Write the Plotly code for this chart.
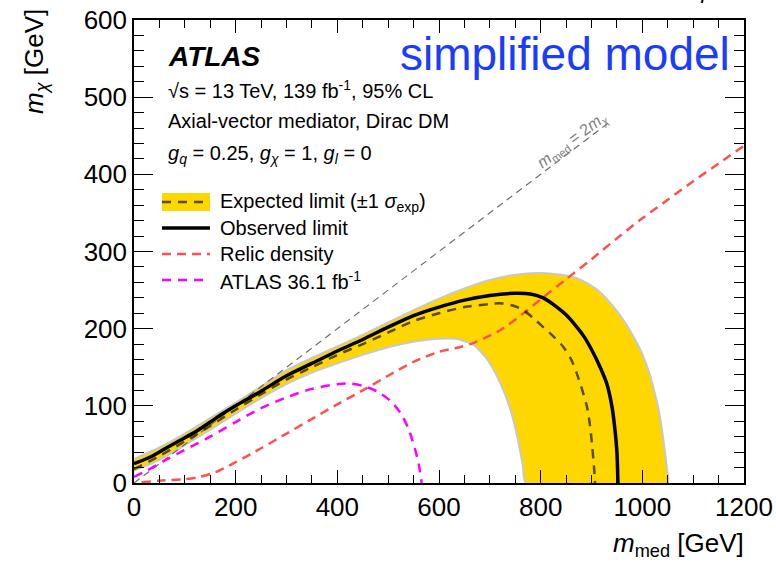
import plotly.graph_objects as go

# ---- data (m_med, m_chi in GeV) ----
obs_x = [0, 30, 60, 90, 120, 150, 175, 200, 250, 300, 350, 400, 450, 500, 550, 600, 650, 700, 750, 780, 805, 830, 850, 870, 885, 900, 915, 930, 940, 946, 950, 952]
obs_y = [25, 33, 44, 55, 66, 79, 90, 100, 119, 139, 155, 171, 186, 202, 217, 228, 237, 243, 246, 245, 240, 229, 218, 203, 190, 173, 153, 129, 100, 70, 40, 0]

exp_x = [0, 50, 100, 150, 200, 250, 300, 350, 400, 450, 500, 550, 600, 650, 700, 720, 745, 766, 785, 805, 825, 845, 860, 871, 882, 891, 897, 901, 905, 907]
exp_y = [18, 35, 54, 74, 95, 115, 134, 150, 166, 180, 195, 210, 220, 228, 232, 233, 230, 224, 214, 202, 190, 176, 160, 142, 120, 99, 75, 50, 20, 0]

band_hi_x = [0, 50, 100, 150, 200, 250, 300, 350, 400, 450, 500, 550, 600, 650, 700, 750, 800, 850, 880, 910, 940, 965, 985, 1000, 1014, 1025, 1033, 1043, 1048, 1050]
band_hi_y = [31, 46, 64, 84, 104, 125, 146, 162, 177, 192, 208, 224, 239, 252, 263, 270, 272, 269, 263, 251, 231, 209, 187, 167, 142, 115, 92, 48, 20, 0]

band_lo_x = [0, 50, 100, 150, 200, 250, 300, 350, 400, 450, 500, 550, 600, 640, 670, 695, 720, 740, 755, 765, 771]
band_lo_y = [16, 30, 49, 69, 90, 110, 128, 143, 155, 166, 176, 183, 187, 186, 178, 160, 130, 96, 57, 22, 0]

relic_x = [15, 50, 100, 130, 160, 200, 250, 300, 350, 400, 450, 500, 550, 600, 640, 670, 720, 770, 800, 850, 900, 950, 1000, 1050, 1100, 1150, 1200]
relic_y = [1, 3, 5, 8, 14, 27, 45, 64, 83, 102, 120, 139, 157, 170, 176, 182, 198, 222, 238, 264, 290, 317, 343, 367, 391, 414, 437]

old_x = [0, 25, 60, 100, 150, 200, 250, 300, 350, 400, 425, 450, 480, 505, 525, 540, 552, 560, 566]
old_y = [8, 16, 29, 43, 60, 79, 97, 111, 122, 128, 129, 126, 118, 106, 90, 70, 46, 25, 0]

diag_x = [0, 940]
diag_y = [0, 470]

x_ticks = [0, 200, 400, 600, 800, 1000, 1200]
y_ticks = [0, 100, 200, 300, 400, 500, 600]

FONT = "Liberation Sans, Arial, Helvetica, sans-serif"
GOLD = "#ffd700"
EXP_COL = "rgba(0,0,0,0.65)"
RELIC_COL = "#ff5050"
OLD_COL = "#ff00ff"
SMOOTH = 0.8

fig = go.Figure()

# +-1 sigma band as a closed polygon
fig.add_trace(go.Scatter(
    x=band_hi_x + band_lo_x[::-1], y=band_hi_y + band_lo_y[::-1],
    fill="toself", fillcolor=GOLD, mode="lines",
    line=dict(color="#c8c8c8", width=2, shape="spline", smoothing=0.6),
    hoverinfo="skip", showlegend=False))

fig.add_trace(go.Scatter(x=diag_x, y=diag_y, mode="lines",
                         line=dict(color="#6e6e6e", width=1.2, dash="7px,5px"),
                         showlegend=False))

fig.add_trace(go.Scatter(x=old_x, y=old_y, mode="lines",
                         line=dict(color=OLD_COL, width=2.5, dash="9px,7px", shape="spline", smoothing=SMOOTH),
                         showlegend=False))

fig.add_trace(go.Scatter(x=relic_x, y=relic_y, mode="lines",
                         line=dict(color=RELIC_COL, width=2.5, dash="9px,6px", shape="spline", smoothing=SMOOTH),
                         showlegend=False))

fig.add_trace(go.Scatter(x=exp_x, y=exp_y, mode="lines",
                         line=dict(color=EXP_COL, width=2.5, dash="9px,7px", shape="spline", smoothing=SMOOTH),
                         showlegend=False))

fig.add_trace(go.Scatter(x=obs_x, y=obs_y, mode="lines",
                         line=dict(color="black", width=3.5, shape="spline", smoothing=SMOOTH),
                         showlegend=False))

# plot-area geometry in pixels (used to place the text block and legend)
L, R, T, B = 134, 744, 20, 483
W, H = 776, 564


def px(xp):
    return (xp - L) / (R - L)


def py(yp):
    return (B - yp) / (B - T)


annotations = []


def txt(text, xp, yp, size, color="black", xanchor="left", yanchor="middle", angle=0):
    annotations.append(dict(text=text, x=px(xp), y=py(yp), xref="paper", yref="paper",
                            xanchor=xanchor, yanchor=yanchor, showarrow=False, textangle=angle,
                            font=dict(family=FONT, size=size, color=color)))


txt("<b><i>ATLAS</i></b>", 166, 56, 28)
txt("simplified model", 732, 54, 46, color="#1a3cff", xanchor="right")
txt("√s = 13 TeV, 139 fb<sup>-1</sup>, 95% CL", 166, 89, 20)
txt("Axial-vector mediator, Dirac DM", 166, 121, 20)
txt("<i>g</i><sub><i>q</i></sub> = 0.25, <i>g</i><sub><i>χ</i></sub> = 1, <i>g</i><sub><i>l</i></sub> = 0", 166, 154, 20)

# legend entries
legend_rows = [
    ("Expected limit (±1 <i>σ</i><sub>exp</sub>)", 202),
    ("Observed limit", 228),
    ("Relic density", 254),
    ("ATLAS 36.1 fb<sup>-1</sup>", 280),
]
for label, yrow in legend_rows:
    txt(label, 218, yrow, 20)

shapes = []
x0, x1 = px(162), px(210)
shapes.append(dict(type="rect", xref="paper", yref="paper", x0=x0, x1=x1,
                   y0=py(211), y1=py(193), fillcolor=GOLD, line=dict(width=0)))
shapes.append(dict(type="line", xref="paper", yref="paper", x0=x0, x1=x1, y0=py(202), y1=py(202),
                   line=dict(color=EXP_COL, width=2.5, dash="9px,7px")))
shapes.append(dict(type="line", xref="paper", yref="paper", x0=x0, x1=x1, y0=py(228), y1=py(228),
                   line=dict(color="black", width=3.5)))
shapes.append(dict(type="line", xref="paper", yref="paper", x0=x0, x1=x1, y0=py(254), y1=py(254),
                   line=dict(color=RELIC_COL, width=2.5, dash="9px,6px")))
shapes.append(dict(type="line", xref="paper", yref="paper", x0=x0, x1=x1, y0=py(280), y1=py(280),
                   line=dict(color=OLD_COL, width=2.5, dash="9px,7px")))

# diagonal label
txt("<i>m</i><sub>med</sub> = 2<i>m</i><sub><i>χ</i></sub>", 572, 140, 16, color="#808080",
    xanchor="center", angle=-37)

# axis titles
txt("<i>m</i><sub><i>χ</i></sub> [GeV]", 36, 62, 26, xanchor="center", angle=-90)
txt("<i>m</i><sub>med</sub> [GeV]", 746, 544, 26, xanchor="right")

# stray glyph at the top edge
txt("<i>q</i>", 700, -9, 22, xanchor="center")

axis_common = dict(showgrid=False, zeroline=False, showline=True, linecolor="black", linewidth=1.5,
                   mirror="allticks", ticks="inside", tickcolor="black", tickwidth=1.2,
                   automargin=False,
                   tickfont=dict(family=FONT, size=26, color="black"))

fig.update_layout(
    width=W, height=H,
    margin=dict(l=L, r=W - R, t=T, b=H - B),
    paper_bgcolor="white", plot_bgcolor="white",
    showlegend=False,
    xaxis=dict(range=[0, 1200], tickvals=x_ticks, ticklen=13,
               minor=dict(ticks="inside", dtick=50, ticklen=8, tickcolor="black", tickwidth=1.2),
               **axis_common),
    yaxis=dict(range=[0, 600], tickvals=y_ticks, ticklen=19,
               minor=dict(ticks="inside", dtick=20, ticklen=10, tickcolor="black", tickwidth=1.2),
               **axis_common),
    annotations=annotations,
    shapes=shapes,
)

fig.write_html("out.html")
